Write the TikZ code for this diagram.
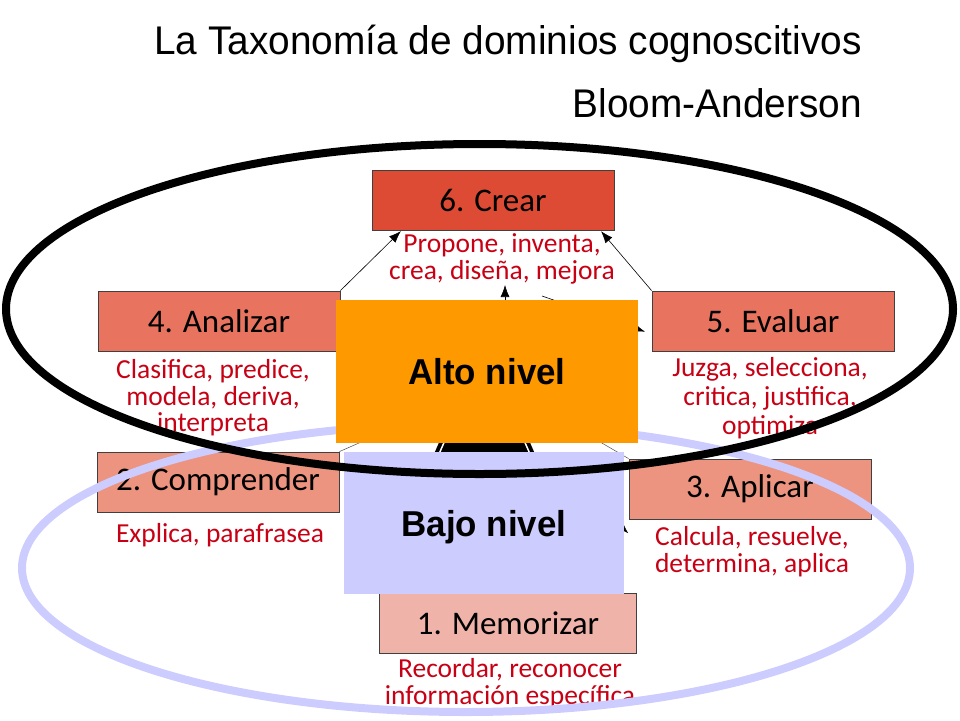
\documentclass[tikz,border=0pt]{standalone}
\usepackage{fontspec}
\setmainfont{Liberation Sans}
\newfontfamily\titlefont{Liberation Sans}[FakeStretch=0.97]
\newfontfamily\handfont{Carlito}
\usetikzlibrary{positioning,arrows.meta}
\definecolor{crear}{HTML}{DE4B34}
\definecolor{altos}{HTML}{E87460}
\definecolor{medios}{HTML}{EC9480}
\definecolor{bajos}{HTML}{F0B3AA}
\definecolor{verbred}{HTML}{C80014}
\definecolor{alto}{HTML}{FF9900}
\definecolor{bajo}{HTML}{CCCCFF}
\tikzset{level node/.style={rectangle,draw=black!75,line width=0.8pt,minimum width=242pt,minimum height=60pt,inner sep=0pt,font=\handfont\fontsize{33pt}{36pt}\selectfont},
verb node/.style={text=verbred,align=center,inner sep=0pt,font=\handfont\fontsize{27.5pt}{26.5pt}\selectfont},
zone node/.style={rectangle,inner sep=0pt,text depth=0pt,font=\titlefont\bfseries\fontsize{36pt}{40pt}\selectfont},
title node/.style={anchor=base east,inner sep=0pt,font=\titlefont\fontsize{40pt}{44pt}\selectfont},
}

\begin{document}
\begin{tikzpicture}[x=1pt,y=-1pt,shorten >= 1pt]
	\useasboundingbox (0,0) rectangle (960,720);
	\node[title node] (title) at (862,54) {La Taxonomía de dominios cognoscitivos};
	\node[title node] (authors) at (862,117) {Bloom-Anderson};
	
	% hidden ends of the connectors
	\coordinate (c6) at (505,330);
	\coordinate (e6) at (505,284);
	\coordinate (c5) at (542,296);
	\coordinate (e5) at (646,332);
	\coordinate (c3) at (585,492);
	\coordinate (e3) at (629,534);
	\coordinate (k2) at (400,425);
	\coordinate (k3) at (583,432);
	
	\fill[black] (427,470) -- (441,438) -- (528,438) -- (542,470) -- cycle;
	\draw[white,line width=1.5pt] (446,438) -- (432,470) (523,438) -- (537,470);
	
	\node[level node,fill=crear] (6) at (493,200) {6. Crear};
	\node[level node,fill=altos] (4) at (219,321) {4. Analizar};
	\node[level node,fill=altos] (5) at (773,321) {5. Evaluar};
	\node[level node,fill=medios] (2) at (218,482) {2. Comprender};
	\node[level node,fill=medios] (3) at (750,489) {3. Aplicar};
	\node[level node,fill=bajos,minimum width=257pt] (1) at (508,623) {1. Memorizar};
	
	\node[verb node] (d6)[below = 3pt of 6,xshift=9pt]{Propone, inventa,\\crea, diseña, mejora};
	\node[verb node] (d4)[below = 8pt of 4,xshift=-6pt]{Clasifica, predice,\\modela, deriva,\\interpreta};
	\node[verb node,font=\handfont\fontsize{27.5pt}{29pt}\selectfont] (d5)[below = 6pt of 5,xshift=-3pt]{Juzga, selecciona,\\critica, justifica,\\optimiza};
	\node[verb node] (d2)[below = 11pt of 2,xshift=2pt]{Explica, parafrasea};
	\node[verb node] (d3)[below = 7pt of 3,xshift=2pt]{Calcula, resuelve,\\determina, aplica};
	\node[verb node] (d1)[below = 5pt of 1,xshift=2pt]{Recordar, reconocer\\información específica};
	
	\path[draw,line width=0.6pt,-{Latex[length=12pt,width=9pt]}]
	(4.north east) edge ([xshift=30pt]6.south west)
	(5.north west) edge ([xshift=-14pt]6.south east)
	(c6) edge (e6)
	(c5) edge (e5)
	(c3) edge (e3);
	\path[draw,black!70,line width=0.5pt]
	(2.north east) edge (k2)
	(3.north west) edge (k3);
	
	\draw[bajo,line width=8pt] (466,568) ellipse [x radius=444,y radius=144];
	
	\node[zone node,fill=alto,minimum width=302pt,minimum height=143pt] (alto) at (487,371.5) {Alto nivel};
	\node[zone node,fill=bajo,minimum width=280pt,minimum height=142pt] (bajo) at (484,523) {Bajo nivel};
	
	\draw[black,line width=8pt] (479.5,309) ellipse [x radius=473.5,y radius=165];
\end{tikzpicture}
\end{document}
